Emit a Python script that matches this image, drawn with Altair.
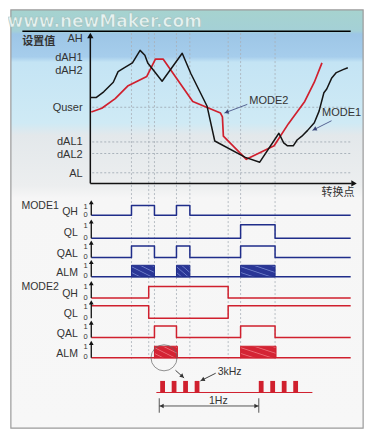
import math
import altair as alt
import pandas as pd

# ---------------- data ----------------
level_names = ["AH", "dAH1", "dAH2", "Quser", "dAL1", "dAL2", "AL"]
level_rows = [32, 52, 65, 104, 139, 153, 172]
grid_rows = [103, 139, 151, 171]
switch_times = [129, 147, 153, 176, 190, 230, 243, 279]

mode1_t = [86, 92, 100, 110, 115, 120, 130, 138, 143, 146, 161, 182, 191, 208, 216,
           248, 263, 283, 288, 292, 298, 302, 307, 313, 320, 325, 330, 333, 338, 343, 350, 355]
mode1_v = [93, 93, 87, 77, 66, 63, 57, 44, 49, 57, 76, 47, 68, 102, 138,
           155, 160, 130, 140, 143, 143, 137, 133, 127, 119, 107, 88, 84, 73, 67, 64, 62]
mode2_t = [87, 98, 112, 125, 145, 154, 162, 193, 222, 224, 225, 249, 278, 293, 310, 320, 328]
mode2_v = [108, 104, 94, 81, 71, 53, 53, 97, 109, 113, 133, 157, 143, 120, 97, 77, 57]

sig_names = ["QH", "QL", "QAL", "ALM"]
m1_base = [215, 239, 259, 279]
m1_high = [205, 225, 247, 267]
m1_on = [[(129, 153), (176, 190)], [(243, 279)],
         [(129, 153), (176, 190), (243, 279)], [(129, 153), (176, 190), (243, 279)]]
m2_base = [301, 322, 342, 363]
m2_high = [289, 309, 330, 351]
m2_on = [[(147, 230)], [(87, 147), (230, 358)],
         [(153, 176), (243, 279)], [(153, 177), (243, 280)]]
t_start, t_end = 87, 358

pulse_t = [159, 171, 183, 195, 262, 274, 286, 298]
pulse_w = 5

BLUE = "#1f2d8a"
RED = "#d0202e"
TXT = "#333333"
FONT = "Liberation Sans"
CJK = "Noto Sans CJK SC"

xs = alt.Scale(domain=[0, 374], nice=False, zero=False)
ys = alt.Scale(domain=[0, 440], nice=False, zero=False, reverse=True)


def X(f="x"):
    return alt.X(f"{f}:Q", scale=xs, axis=None)


def Y(f="y"):
    return alt.Y(f"{f}:Q", scale=ys, axis=None)


def X2(f="x2"):
    return alt.X2(f"{f}:Q")


def Y2(f="y2"):
    return alt.Y2(f"{f}:Q")


def segs(rows, **mk):
    df = pd.DataFrame(rows, columns=["x", "y", "x2", "y2"])
    return alt.Chart(df).mark_rule(**mk).encode(x=X(), y=Y(), x2=X2(), y2=Y2())


def rects(rows, **mk):
    df = pd.DataFrame(rows, columns=["x", "y", "x2", "y2"])
    return alt.Chart(df).mark_rect(**mk).encode(x=X(), y=Y(), x2=X2(), y2=Y2())


def texts(rows, **mk):
    df = pd.DataFrame(rows, columns=["x", "y", "t"])
    return alt.Chart(df).mark_text(**mk).encode(x=X(), y=Y(), text="t:N")


def heads(arrows, color, size=30):
    rows = []
    for x0, y0, x1, y1 in arrows:
        dx, dy = x1 - x0, y1 - y0
        L = math.hypot(dx, dy)
        ang = math.degrees(math.atan2(dx, -dy)) % 360
        rows.append((x1 - 2.5 * dx / L, y1 - 2.5 * dy / L, ang))
    df = pd.DataFrame(rows, columns=["x", "y", "a"])
    return alt.Chart(df).mark_point(shape="triangle-up", filled=True, color=color,
                                    size=size, opacity=1).encode(
        x=X(), y=Y(), angle=alt.Angle("a:Q", scale=None))


def polyline(ts, vs, color, width=1.6, group="g"):
    df = pd.DataFrame({"x": ts, "y": vs, "i": range(len(ts)), "g": group})
    return alt.Chart(df).mark_line(color=color, strokeWidth=width,
                                   strokeJoin="round").encode(
        x=X(), y=Y(), order="i:Q", detail="g:N")


def step_points(intervals, base, high):
    xsl, ysl = [], []
    state = any(a <= t_start for a, b in intervals)
    xsl.append(t_start)
    ysl.append(high if state else base)
    edges = sorted([a for a, b in intervals if a > t_start] + [b for a, b in intervals if b < t_end])
    for e in edges:
        lvl = high if state else base
        xsl.append(e); ysl.append(lvl)
        state = not state
        xsl.append(e); ysl.append(high if state else base)
    xsl.append(t_end)
    ysl.append(high if state else base)
    return xsl, ysl


def hatch(base, streak):
    stops = []
    for k in range(4):
        o = k * 0.25
        stops += [alt.GradientStop(offset=o, color=base),
                  alt.GradientStop(offset=o + 0.15, color=base),
                  alt.GradientStop(offset=o + 0.19, color=streak),
                  alt.GradientStop(offset=o + 0.23, color=base)]
    stops.append(alt.GradientStop(offset=1, color=base))
    return alt.LinearGradient(gradient="linear", x1=0, y1=1, x2=1, y2=0, stops=stops)


layers = []

# background panel with gradient and frame
grad = alt.LinearGradient(
    gradient="linear", x1=0, x2=0, y1=0, y2=1,
    stops=[alt.GradientStop(offset=0, color="#a6d3cf"),
           alt.GradientStop(offset=0.05, color="#a4d0d6"),
           alt.GradientStop(offset=0.058, color="#9dc6e6"),
           alt.GradientStop(offset=0.112, color="#a6cdec"),
           alt.GradientStop(offset=0.125, color="#c4e4f4"),
           alt.GradientStop(offset=0.27, color="#cfeaf5"),
           alt.GradientStop(offset=0.30, color="#e3e8eb"),
           alt.GradientStop(offset=0.42, color="#eceeef"),
           alt.GradientStop(offset=0.45, color="#f6f6f6"),
           alt.GradientStop(offset=1, color="#f7f7f7")])
layers.append(rects([(3, 2, 371, 436)], color=grad, stroke="#9a9a9a", strokeWidth=1.2))

# watermark
layers.append(texts([(101, 15, "www.newMaker.com")], fontSize=17, fontWeight="bold",
                    font="DejaVu Sans", color="#eef6f4", opacity=0.9, stroke="#a3c4bf",
                    strokeWidth=0.7))

# top black line
layers.append(segs([(15, 24, 358, 24)], color="black", strokeWidth=1.5))

# dotted grid
layers.append(segs([(88, r, 358, r) for r in grid_rows], color="#9aa4ae",
                   strokeWidth=0.8, strokeDash=[2, 2]))
layers.append(segs([(t, 26, t, 365) for t in switch_times], color="#a8b0b8",
                   strokeWidth=0.8, strokeDash=[2, 2]))

# main axes
layers.append(segs([(86, 182, 86, 30), (86, 182, 359, 182)], color="#111", strokeWidth=1.5))
layers.append(heads([(86, 60, 86, 26), (300, 182, 364, 182)], "#111", size=40))

# level labels
layers.append(texts(list(zip([78] * 7, level_rows, level_names)), align="right",
                    baseline="middle", fontSize=11, font=FONT, color=TXT))
layers.append(texts([(15, 35, "设置值")], align="left", baseline="middle", fontSize=11,
                    font=CJK, fontWeight="bold", color=TXT))
layers.append(texts([(362, 192, "转换点")], align="right", baseline="middle", fontSize=11,
                    font=CJK, color=TXT))

# curves
layers.append(polyline(mode2_t, mode2_v, RED, 1.7, "m2"))
layers.append(polyline(mode1_t, mode1_v, "#151515", 1.5, "m1"))

# curve annotations
layers.append(texts([(252, 97, "MODE2"), (328, 109, "MODE1")], align="left",
                    baseline="middle", fontSize=11, font=FONT, color=TXT))
ann = [(250, 100, 226, 109), (338, 117, 318, 127)]
layers.append(segs(ann, color="#4a5688", strokeWidth=0.9))
layers.append(heads(ann, "#3a4678", size=22))

# mode labels
layers.append(texts([(14, 205, "MODE1"), (14, 290, "MODE2")], align="left",
                    baseline="middle", fontSize=10.5, font=FONT, color=TXT))


def timing(bases, highs, ons, color, fill, tag):
    out = []
    lab, ones, zeros, axes, ah, fills = [], [], [], [], [], []
    for n, b, h, on in zip(sig_names, bases, highs, ons):
        lab.append((73, (b + h) / 2 + 2, n))
        ones.append((81, h + 1, "1"))
        zeros.append((81, b - 0.5, "0"))
        axes.append((87, b, 87, h - 3))
        ah.append((87, b, 87, h - 6))
        if n == "ALM":
            out.append(polyline([t_start, t_end], [b, b], color, 1.5, tag + n))
            for a, c in on:
                fills.append((a, h, c, b))
        else:
            px, py = step_points(on, b, h)
            out.append(polyline(px, py, color, 1.5, tag + n))
    out.append(rects(fills, color=fill, stroke=color, strokeWidth=1))
    out.append(segs(axes, color="#111", strokeWidth=1.3))
    out.append(heads(ah, "#111", size=22))
    out.append(texts(lab, align="right", baseline="middle", fontSize=10.5, font=FONT, color=TXT))
    out.append(texts(ones, align="center", baseline="middle", fontSize=7.5, font=FONT, color=TXT))
    out.append(texts(zeros, align="center", baseline="middle", fontSize=7.5, font=FONT, color=TXT))
    return out


layers += timing(m1_base, m1_high, m1_on, BLUE, hatch("#2a3696", "#6c7cc8"), "m1")
layers += timing(m2_base, m2_high, m2_on, RED, hatch("#d42434", "#ea6a74"), "m2")

# 3kHz burst detail
layers.append(segs([(155, 399, 318, 399)], color=RED, strokeWidth=1))
layers.append(rects([(p, 387, p + pulse_w, 399) for p in pulse_t], color=RED))
circ = pd.DataFrame({"x": [163], "y": [363]})
layers.append(alt.Chart(circ).mark_point(shape="circle", filled=False, color="#666",
                                         strokeWidth=1, size=680).encode(x=X(), y=Y()))
burst_arrows = [(175, 376, 184, 384), (217, 379, 201, 387)]
layers.append(segs(burst_arrows, color="#444", strokeWidth=1))
layers.append(heads(burst_arrows, "#333", size=22))
layers.append(texts([(219, 378, "3kHz"), (210, 408, "1Hz")], align="left",
                    baseline="middle", fontSize=10.5, font=FONT, color=TXT))

# 1Hz dimension
layers.append(segs([(158, 413, 262, 413), (158, 405, 158, 420), (262, 405, 262, 420)],
                   color="#444", strokeWidth=0.9))
layers.append(heads([(200, 413, 158, 413), (220, 413, 262, 413)], "#333", size=22))

chart = alt.layer(*layers).properties(
    width=358, height=424, padding=0, autosize="none"
).configure_view(strokeWidth=0)

chart.save("out.html", embed_options={"renderer": "svg", "actions": False})
